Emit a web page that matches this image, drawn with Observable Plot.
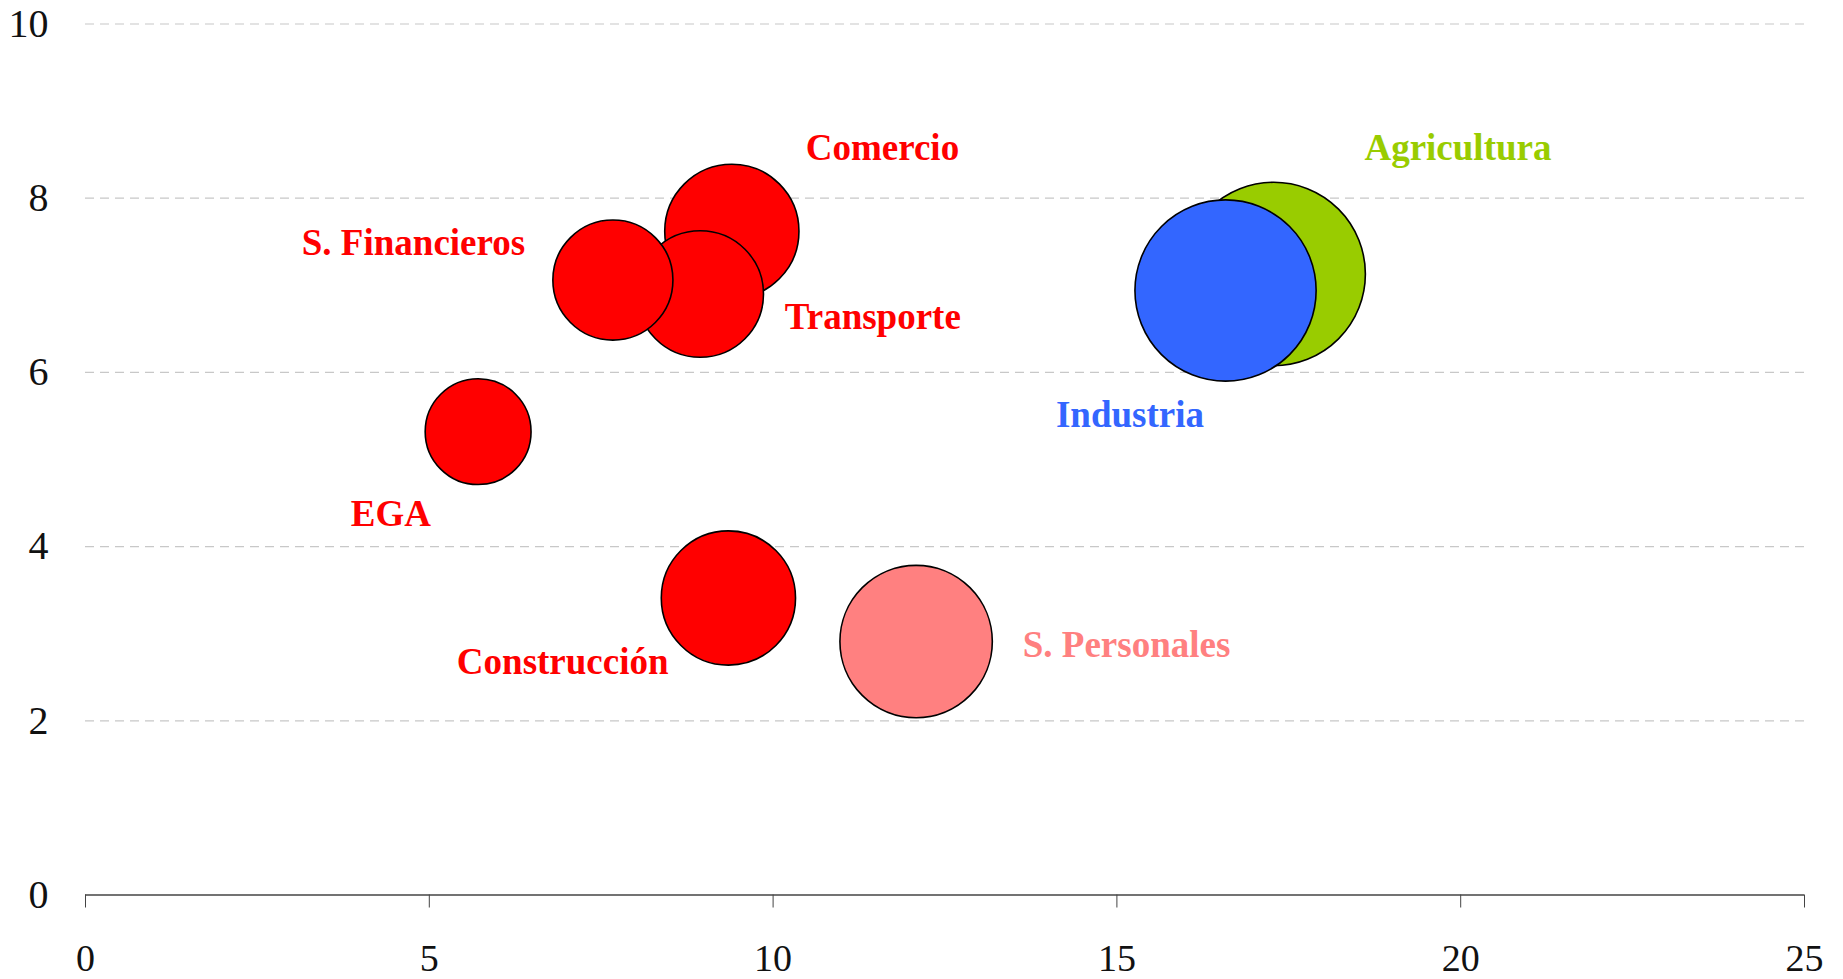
<!DOCTYPE html>
<html>
<head>
<meta charset="utf-8">
<script src="https://cdn.jsdelivr.net/npm/d3@7"></script>
<script src="https://cdn.jsdelivr.net/npm/@observablehq/plot@0.6"></script>
<style>
  html, body { margin: 0; padding: 0; background: #fff; }
  #chart svg { display: block; }
</style>
</head>
<body>
<div id="chart"></div>
<script>
// Sectors (drawing order: later ones on top)
const sectors = ["Agricultura", "Industria", "Comercio", "Transporte", "S. Financieros", "EGA", "Construcción", "S. Personales"];
const xValues = [17.28, 16.58, 9.40, 8.94, 7.67, 5.71, 9.35, 12.08];
const yValues = [7.13, 6.94, 7.62, 6.90, 7.06, 5.32, 3.41, 2.91];
const sizeValues = [8.4, 8.2, 4.5, 4.0, 3.6, 2.8, 4.5, 5.8];
// Label anchor points (data units)
const labelX = [19.96, 15.19, 11.59, 11.45, 4.77, 4.44, 6.94, 15.14];
const labelY = [8.57, 5.51, 8.57, 6.63, 7.48, 4.37, 2.67, 2.87];
const xTicks = [0, 5, 10, 15, 20, 25];
const yTicks = [0, 2, 4, 6, 8, 10];
const gridY = [2, 4, 6, 8, 10];

const colors = {
  "Agricultura": "#99CC00",
  "Industria": "#3366FF",
  "Comercio": "#FF0000",
  "Transporte": "#FF0000",
  "S. Financieros": "#FF0000",
  "EGA": "#FF0000",
  "Construcción": "#FF0000",
  "S. Personales": "#FF8080"
};

const data = sectors.map((s, i) => ({
  sector: s, x: xValues[i], y: yValues[i], size: sizeValues[i],
  lx: labelX[i], ly: labelY[i], color: colors[s]
}));

const serif = "'Liberation Serif', 'Times New Roman', serif";

const plot = Plot.plot({
  width: 1843,
  height: 979,
  marginLeft: 85,
  marginRight: 39,
  marginTop: 23.5,
  marginBottom: 84.5,
  style: { fontFamily: serif, background: "#fff", overflow: "visible" },
  x: { domain: [0, 25], ticks: xTicks },
  y: { domain: [0, 10], ticks: yTicks },
  r: { type: "sqrt", domain: [0, 8.4], range: [0, 91.7] },
  marks: [
    Plot.ruleY(gridY, { stroke: "#c8c8c8", strokeWidth: 1.2, strokeDasharray: "9,6" }),
    Plot.axisX({ ticks: xTicks, tickSize: 13, tickPadding: 36, fontSize: 38, fontFamily: serif, stroke: "#444", color: "#111", tickFormat: d => String(d) }),
    Plot.axisY({ ticks: yTicks, tickSize: 0, tickPadding: 37, fontSize: 40, fontFamily: serif, color: "#111", tickFormat: d => String(d) }),
    Plot.ruleY([0], { stroke: "#444", strokeWidth: 1.3 }),
    Plot.dot(data, { x: "x", y: "y", r: "size", fill: "color", stroke: "#000", strokeWidth: 1.6, fillOpacity: 1 }),
    Plot.text(data, { x: "lx", y: "ly", text: "sector", fill: "color", fontSize: 37, fontWeight: "bold", fontFamily: serif })
  ]
});

document.getElementById("chart").appendChild(plot);
</script>
</body>
</html>
